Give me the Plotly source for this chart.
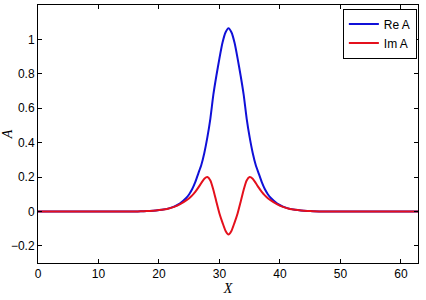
import plotly.graph_objects as go

x_vals = [0, 5, 10, 15, 16.5, 17.5, 18.5, 19.5, 20.5, 21.5, 22.5, 23.5, 24.5,
          25, 25.5, 26, 26.5, 27, 27.5, 28, 28.5, 29, 29.5, 30, 30.5, 31, 31.5,
          32, 32.5, 33, 33.5, 34, 34.5, 35, 35.5, 36, 36.5, 37, 37.5, 38, 38.5,
          39.5, 40.5, 41.5, 42.5, 43.5, 44.5, 45.5, 46.5, 50, 55, 60, 62.83]

re_a = [0, 0, 0, 0, 0, 0.001, 0.0025, 0.005, 0.009, 0.016, 0.028, 0.047, 0.078,
        0.10, 0.13, 0.17, 0.22, 0.27, 0.34, 0.43, 0.54, 0.68, 0.79, 0.89, 0.98, 1.04, 1.065,
        1.04, 0.98, 0.89, 0.79, 0.68, 0.54, 0.43, 0.34, 0.27, 0.22, 0.17, 0.13, 0.10, 0.078,
        0.047, 0.028, 0.016, 0.009, 0.005, 0.0025, 0.001, 0, 0, 0, 0, 0]

im_a = [0, 0, 0, 0, 0, 0.001, 0.0025, 0.005, 0.009, 0.015, 0.026, 0.042, 0.064,
        0.077, 0.093, 0.113, 0.138, 0.165, 0.19, 0.20, 0.18, 0.125, 0.055, -0.012, -0.065, -0.112, -0.134,
        -0.112, -0.065, -0.012, 0.055, 0.125, 0.18, 0.20, 0.19, 0.165, 0.138, 0.113, 0.093, 0.077, 0.064,
        0.042, 0.026, 0.015, 0.009, 0.005, 0.0025, 0.001, 0, 0, 0, 0, 0]

x_ticks = [0, 10, 20, 30, 40, 50, 60]
y_ticks = [-0.2, 0, 0.2, 0.4, 0.6, 0.8, 1]
y_tick_text = ["\u22120.2", "0", "0.2", "0.4", "0.6", "0.8", "1"]

fig = go.Figure()
fig.add_trace(go.Scatter(x=x_vals, y=re_a, mode="lines", name="Re A",
                         line=dict(color="#1010d8", width=2, shape="spline", smoothing=0.6)))
fig.add_trace(go.Scatter(x=x_vals, y=im_a, mode="lines", name="Im A",
                         line=dict(color="#e4101c", width=2, shape="spline", smoothing=0.6)))

axis_common = dict(showgrid=False, zeroline=False, showline=True, linecolor="black",
                   linewidth=1, mirror="ticks", ticks="inside", ticklen=4,
                   tickcolor="black", tickwidth=1, automargin=False,
                   tickfont=dict(family="Liberation Sans, Arial", size=12, color="black"))

fig.update_layout(
    width=426, height=300,
    margin=dict(l=38, r=8, t=5, b=37),
    paper_bgcolor="white", plot_bgcolor="white",
    xaxis=dict(range=[0, 62.83], tickvals=x_ticks,
               title=dict(text="X", standoff=0,
                          font=dict(family="Liberation Serif, Times New Roman", size=14, color="black", style="italic")),
               **axis_common),
    yaxis=dict(range=[-0.3, 1.2], tickvals=y_ticks, ticktext=y_tick_text,
               title=dict(text="A", standoff=4,
                          font=dict(family="Liberation Serif, Times New Roman", size=14, color="black", style="italic")),
               **axis_common),
    legend=dict(x=0.997, xanchor="right", y=0.986, yanchor="top",
                bgcolor="white", bordercolor="black", borderwidth=1,
                font=dict(family="Liberation Sans, Arial", size=12, color="black"),
                itemwidth=30, tracegroupgap=0),
    showlegend=True,
)

fig.write_html("out.html")
